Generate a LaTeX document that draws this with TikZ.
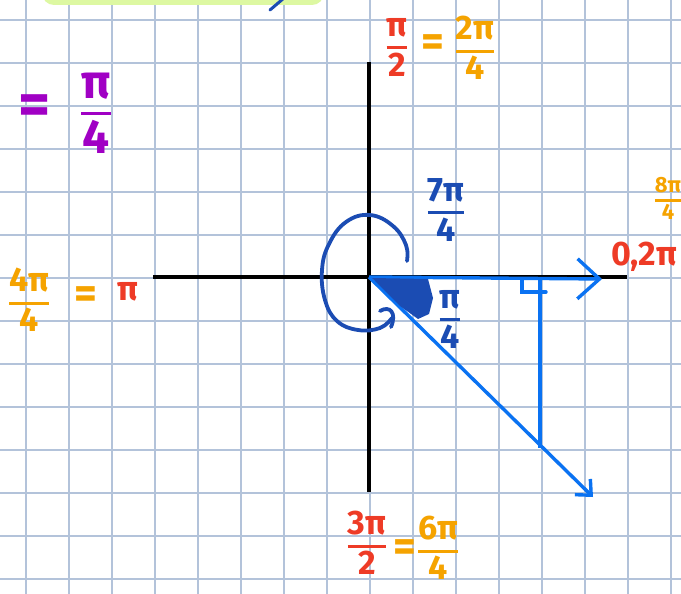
\documentclass[tikz,border=0pt]{standalone}
\usepackage{fontspec}
\setmainfont{Fira Sans}
\usetikzlibrary{arrows.meta}
\definecolor{gridc}{HTML}{B3C3DA}
\definecolor{redc}{HTML}{EE3B26}
\definecolor{orc}{HTML}{F5A300}
\definecolor{purc}{HTML}{A000C4}
\definecolor{dkb}{HTML}{1B4CB3}
\definecolor{ltb}{HTML}{0A72F2}
\definecolor{hlg}{HTML}{DDF8A2}
\setlength{\arrayrulewidth}{3pt}
\renewcommand{\arraystretch}{0.82}
\newcommand{\hfr}[2]{\begin{tabular}{@{}c@{}}#1\\\hline\rule{0pt}{0.8em}#2\end{tabular}}
\begin{document}
\begin{tikzpicture}[x=1pt,y=-1pt,
  gridline/.style={gridc,line width=1.4pt},
  axis/.style={black,line width=3.6pt},
  vec/.style={ltb,line width=3.4pt},
  loopc/.style={dkb,line width=3.8pt,line cap=round},
  lab/.style={inner sep=0pt,font=\fontsize{34}{40}\selectfont\bfseries},
  eqlab/.style={inner sep=0pt,font=\fontsize{44}{50}\selectfont\bfseries},
  biglab/.style={inner sep=0pt,font=\fontsize{48}{56}\selectfont\bfseries},
  bigeq/.style={inner sep=0pt,font=\fontsize{62}{70}\selectfont\bfseries},
  smalllab/.style={inner sep=0pt,font=\fontsize{22}{26}\selectfont\bfseries}]
\useasboundingbox (0,0) rectangle (681,594);
\fill[white] (0,0) rectangle (681,594);
% grid
\foreach \k in {0,...,15} \draw[gridline] (26+43*\k,0) -- (26+43*\k,594);
\foreach \k in {0,...,13} \draw[gridline] (0,20+43*\k) -- (681,20+43*\k);
% green highlight box at top
\fill[hlg,rounded corners=12pt] (42,-40) rectangle (324,5);
\coordinate (s1) at (270,10);
\coordinate (s2) at (284,-2);
\draw[dkb,line width=3pt,line cap=round] (s1) -- (s2);
% axes
\coordinate (O) at (369,277);
\coordinate (xl) at (153,277);
\coordinate (xr) at (627,277);
\coordinate (yt) at (369,62);
\coordinate (yb) at (369,492);
\draw[axis] (xl) -- (xr);
\draw[axis] (yt) -- (yb);
% blue vectors
\coordinate (hx) at (602,279);
\coordinate (dx) at (593,497);
\coordinate (top) at (540,278);
\coordinate (foot) at (540,448);
\draw[vec,-{Straight Barb[length=22pt,width=40pt,line width=3.4pt]}] (O) -- (hx);
\draw[vec,-{Straight Barb[length=12pt,width=22pt,line width=3.4pt]}] (O) -- (dx);
\draw[vec] (top) -- (foot);
\coordinate (r1) at (522,280);
\coordinate (r2) at (522,292);
\coordinate (r3) at (546,292);
\draw[vec,line cap=round] (r1) -- (r2) -- (r3);
% filled wedge
\fill[dkb] (372,278) -- (428,279) -- (433,298) -- (429,314) -- (418,319) -- (400,306) -- cycle;
% loop around origin
\draw[loopc] plot[smooth,tension=0.7] coordinates {(407,261) (406,245) (393,226) (370,215) (346,222) (329,244) (322,270) (325,300) (337,321) (358,330) (380,328) (392,318)};
\draw[loopc] (380,311) .. controls (390,305) and (397,313) .. (391,327);
% labels
\node[lab,text=dkb] (l74) at (446,215) {\hfr{7π}{4}};
\node[lab,text=dkb] (l14) at (450,322) {\hfr{π}{4}};
\node[bigeq,text=purc] (lpeq) at (35,110) {=};
\node[biglab,text=purc] (lpur) at (96,117) {\hfr{π}{4}};
\node[lab,text=redc] (lpi2) at (397,50) {\hfr{π}{2}};
\node[eqlab,text=orc] (leq1) at (433,46) {=};
\node[lab,text=orc] (l24) at (475,53) {\hfr{2π}{4}};
\node[lab,text=orc] (l44) at (29,305) {\hfr{4π}{4}};
\node[eqlab,text=orc] (leq2) at (86,298) {=};
\node[lab,text=redc] (lpi) at (128,292) {π};
\node[lab,text=redc] (l32) at (367,548) {\hfr{3π}{2}};
\node[eqlab,text=orc] (leq3) at (405,551) {=};
\node[lab,text=orc] (l64) at (438,553) {\hfr{6π}{4}};
\node[lab,text=redc] (l02) at (644,257) {0,2π};
\node[smalllab,text=orc] (l84) at (668,202) {\hfr{8π}{4}};
\end{tikzpicture}
\end{document}
